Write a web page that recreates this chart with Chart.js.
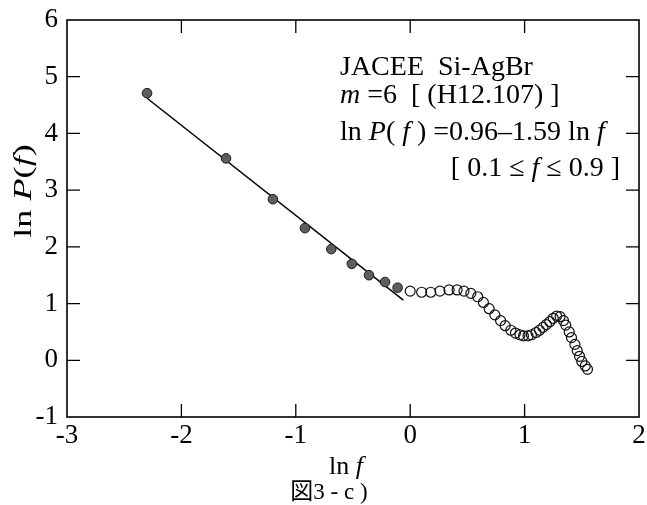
<!DOCTYPE html>
<html><head><meta charset="utf-8">
<script src="https://cdn.jsdelivr.net/npm/chart.js@4.4.1/dist/chart.umd.min.js"></script>
<style>html,body{margin:0;padding:0;background:#fff}#wrap{width:647px;height:505px}</style>
</head><body><div id="wrap"><canvas id="c" width="647" height="505"></canvas></div>
<script>
// ---- data ----
const fitX = [-2.30, -0.06];
const fitY = [4.62, 1.06];
const filledX = [-2.30, -1.61, -1.20, -0.92, -0.69, -0.51, -0.36, -0.22, -0.11];
const filledY = [4.71, 3.56, 2.84, 2.33, 1.96, 1.70, 1.50, 1.38, 1.28];
const openX = [0.00, 0.10, 0.18, 0.26, 0.34, 0.41, 0.47, 0.53, 0.59, 0.64, 0.69, 0.74, 0.79, 0.83, 0.88, 0.92, 0.96, 0.99, 1.03, 1.06, 1.10, 1.13, 1.16, 1.19, 1.22, 1.25, 1.28, 1.31, 1.34, 1.36, 1.39, 1.41, 1.44, 1.46, 1.48, 1.50, 1.53, 1.55];
const openY = [1.22, 1.20, 1.20, 1.22, 1.24, 1.24, 1.22, 1.18, 1.12, 1.02, 0.91, 0.80, 0.70, 0.61, 0.53, 0.48, 0.45, 0.43, 0.43, 0.45, 0.49, 0.53, 0.58, 0.63, 0.68, 0.74, 0.78, 0.77, 0.70, 0.62, 0.50, 0.40, 0.28, 0.17, 0.07, -0.02, -0.10, -0.16];
const xTicks = [-3, -2, -1, 0, 1, 2];
const yTicks = [-1, 0, 1, 2, 3, 4, 5, 6];
const xTitle = [["ln ", false], ["f", true]];
const yTitle = [["ln ", false], ["P", true], ["(", false], ["f", true], [")", false]];
const caption = "図3 - c )";
const noteLines = [
  [["JACEE  Si-AgBr", false]],
  [["m", true], [" =6  [ (H12.107) ]", false]],
  [["ln ", false], ["P", true], ["( ", false], ["f", true], [" ) =0.96\u20131.59 ln ", false], ["f", true]],
  [["[ 0.1 \u2264 ", false], ["f", true], [" \u2264 0.9 ]", false]]
];

const SERIF = '"Liberation Serif", "Times New Roman", serif';
const pts = (xs, ys) => xs.map((x, i) => ({x: x, y: ys[i]}));

function segFont(it, size){ return (it ? 'italic ' : '') + size + 'px ' + SERIF; }
function drawRich(ctx, segs, x, y, align, size){
  const w = segs.map(s => { ctx.font = segFont(s[1], size); return ctx.measureText(s[0]).width; });
  const total = w.reduce((a, b) => a + b, 0);
  let cx = align === 'right' ? x - total : align === 'center' ? x - total / 2 : x;
  ctx.textAlign = 'left'; ctx.textBaseline = 'alphabetic'; ctx.fillStyle = '#000';
  segs.forEach((s, i) => { ctx.font = segFont(s[1], size); ctx.fillText(s[0], cx, y); cx += w[i]; });
}

const framePlugin = {
  id: 'frame',
  afterDraw(chart){
    const ctx = chart.ctx, a = chart.chartArea;
    const xs = chart.scales.x, ys = chart.scales.y;
    ctx.save();
    ctx.strokeStyle = '#000'; ctx.lineWidth = 1.6;
    ctx.strokeRect(a.left, a.top, a.right - a.left, a.bottom - a.top);
    ctx.lineWidth = 1.3;
    const L = 13;
    ctx.beginPath();
    xTicks.forEach(v => {
      const p = xs.getPixelForValue(v);
      if (p <= a.left + 1 || p >= a.right - 1) return;
      ctx.moveTo(p, a.bottom); ctx.lineTo(p, a.bottom - L);
      ctx.moveTo(p, a.top); ctx.lineTo(p, a.top + L);
    });
    yTicks.forEach(v => {
      const p = ys.getPixelForValue(v);
      if (p <= a.top + 1 || p >= a.bottom - 1) return;
      ctx.moveTo(a.left, p); ctx.lineTo(a.left + L, p);
      ctx.moveTo(a.right, p); ctx.lineTo(a.right - L, p);
    });
    ctx.stroke();
    // axis titles
    const cxm = (a.left + a.right) / 2;
    drawRich(ctx, xTitle, cxm - 7, 474, 'center', 26);
    ctx.save();
    ctx.translate(31, 191);
    ctx.rotate(-Math.PI / 2);
    ctx.scale(1.45, 1);
    drawRich(ctx, yTitle, 0, 0, 'center', 25);
    ctx.restore();
    // caption
    ctx.font = '23px ' + SERIF + ', "Noto Sans CJK JP"';
    ctx.textAlign = 'center'; ctx.textBaseline = 'alphabetic';
    ctx.fillText(caption, cxm - 24, 499);
    // annotation
    drawRich(ctx, noteLines[0], 340, 75, 'left', 28);
    drawRich(ctx, noteLines[1], 340, 103, 'left', 28);
    drawRich(ctx, noteLines[2], 340, 140, 'left', 28);
    drawRich(ctx, noteLines[3], 620, 176, 'right', 28);
    ctx.restore();
  }
};

new Chart(document.getElementById('c'), {
  type: 'scatter',
  data: {
    datasets: [
      { type: 'line', data: pts(fitX, fitY), borderColor: '#000', borderWidth: 1.5, pointRadius: 0, fill: false, order: 3 },
      { data: pts(filledX, filledY), pointRadius: 4.8, backgroundColor: '#5e5e5e', borderColor: '#1a1a1a', borderWidth: 1, order: 2 },
      { data: pts(openX, openY), pointRadius: 5, backgroundColor: 'rgba(0,0,0,0)', borderColor: '#111', borderWidth: 1.2, order: 1 }
    ]
  },
  options: {
    responsive: false, animation: false, devicePixelRatio: 1,
    layout: { padding: { top: 20, right: 8, left: 0, bottom: 0 } },
    plugins: { legend: { display: false }, tooltip: { enabled: false } },
    scales: {
      x: {
        type: 'linear', min: -3, max: 2,
        grid: { display: false, drawTicks: false }, border: { display: false },
        afterBuildTicks: s => { s.ticks = xTicks.map(v => ({value: v})); },
        ticks: { font: { family: SERIF, size: 27 }, color: '#000', padding: 3, maxRotation: 0, autoSkip: false },
        afterFit: s => { s.height = 88; s.paddingLeft = 0; s.paddingRight = 0; }
      },
      y: {
        type: 'linear', min: -1, max: 6,
        grid: { display: false, drawTicks: false }, border: { display: false },
        afterBuildTicks: s => { s.ticks = yTicks.map(v => ({value: v})); },
        ticks: { font: { family: SERIF, size: 27 }, color: '#000', padding: 9, autoSkip: false },
        afterFit: s => { s.width = 67; s.paddingTop = 0; s.paddingBottom = 0; }
      }
    }
  },
  plugins: [framePlugin]
});
</script></body></html>
